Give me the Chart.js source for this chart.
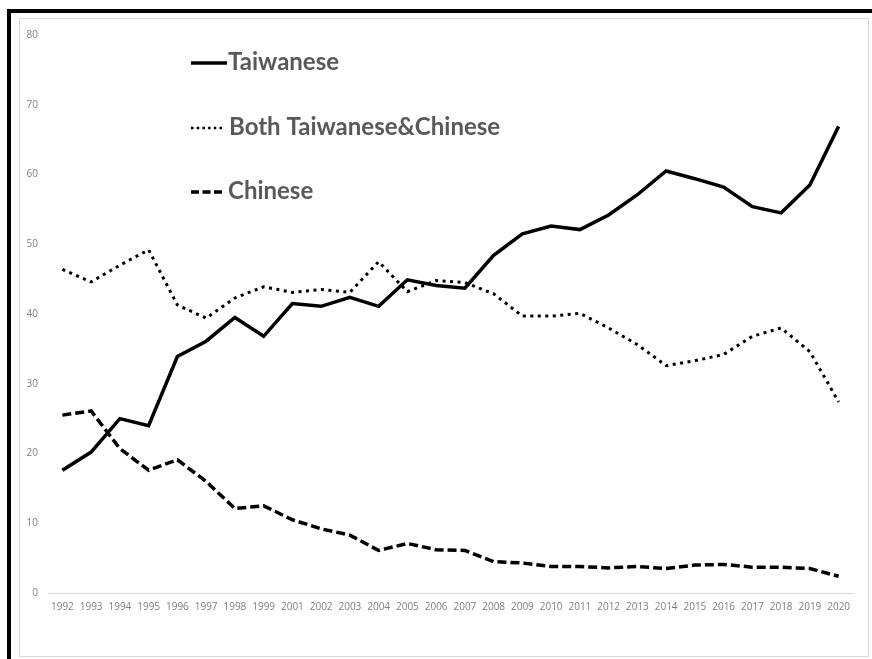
<!DOCTYPE html>
<html>
<head>
<meta charset="utf-8">
<script src="https://cdn.jsdelivr.net/npm/chart.js@4/dist/chart.umd.min.js"></script>
<style>
  html, body { margin: 0; padding: 0; width: 872px; height: 659px; overflow: hidden; background: #fff; }
  #frame { position: absolute; left: 7px; top: 9px; width: 900px; height: 700px; border: 4px solid #000; box-sizing: border-box; }
  #box { position: absolute; left: 19px; top: 18px; width: 848px; height: 637px; border: 1px solid #d9d9d9; background: #fff; }
  #wrap { position: absolute; left: 0; top: 0; width: 848px; height: 637px; }
</style>
</head>
<body>
<div id="frame"></div>
<div id="box"><div id="wrap"><canvas id="chart"></canvas></div></div>
<script>
// роки (2000 у даних відсутній)
const years = ['1992','1993','1994','1995','1996','1997','1998','1999','2001','2002','2003','2004','2005','2006','2007',
  '2008','2009','2010','2011','2012','2013','2014','2015','2016','2017','2018','2019','2020'];

const taiwanese = [17.6, 20.2, 25.0, 24.0, 33.9, 36.1, 39.5, 36.8, 41.5, 41.1, 42.4, 41.1, 44.9, 44.1, 43.7,
  48.4, 51.5, 52.6, 52.1, 54.2, 57.1, 60.5, 59.4, 58.2, 55.4, 54.5, 58.5, 66.9];
const both = [46.4, 44.6, 47.0, 49.2, 41.3, 39.4, 42.3, 43.9, 43.1, 43.5, 43.1, 47.5, 43.2, 44.8, 44.5,
  42.9, 39.7, 39.7, 40.1, 38.0, 35.6, 32.6, 33.3, 34.2, 36.8, 38.0, 34.6, 27.4];
const chinese = [25.5, 26.1, 20.7, 17.6, 19.1, 16.0, 12.1, 12.5, 10.5, 9.2, 8.3, 6.1, 7.1, 6.2, 6.1,
  4.5, 4.3, 3.8, 3.8, 3.6, 3.8, 3.5, 4.0, 4.1, 3.7, 3.7, 3.5, 2.4];

const yTicks = [0, 10, 20, 30, 40, 50, 60, 70, 80];

// легенда всередині графіка
const inlineLegend = {
  id: 'inlineLegend',
  afterDraw(chart) {
    const ctx = chart.ctx;
    const rows = [43, 108, 172];
    const samples = [
      { w: 3.5, dash: [] },
      { w: 2.5, dash: [2.5, 3.2] },
      { w: 3.5, dash: [8, 3.5] }
    ];
    ctx.save();
    chart.data.datasets.forEach((ds, i) => {
      const y = rows[i];
      ctx.beginPath();
      ctx.strokeStyle = '#000';
      ctx.lineWidth = samples[i].w;
      ctx.setLineDash(samples[i].dash);
      ctx.moveTo(171, y + 1);
      ctx.lineTo(i === 0 ? 207 : 203, y + 1);
      ctx.stroke();
      ctx.setLineDash([]);
      ctx.fillStyle = '#595959';
      ctx.font = 'bold 24px Lato';
      ctx.textBaseline = 'middle';
      ctx.fillText(ds.label, i === 1 ? 209 : 208, y);
    });
    ctx.restore();
  }
};

new Chart(document.getElementById('chart'), {
  type: 'line',
  data: {
    labels: years,
    datasets: [
      { label: 'Taiwanese', data: taiwanese, borderColor: '#000', borderWidth: 3.5, pointRadius: 0, tension: 0 },
      { label: 'Both Taiwanese&Chinese', data: both, borderColor: '#000', borderWidth: 3, borderDash: [3, 4.5], pointRadius: 0, tension: 0 },
      { label: 'Chinese', data: chinese, borderColor: '#000', borderWidth: 3.5, borderDash: [9, 4], pointRadius: 0, tension: 0 }
    ]
  },
  options: {
    animation: false,
    responsive: true,
    maintainAspectRatio: false,
    layout: { padding: { top: 14, right: 15, left: 0, bottom: 0 } },
    plugins: { legend: { display: false }, tooltip: { enabled: false } },
    scales: {
      x: {
        offset: true,
        grid: { display: false, drawTicks: false, offset: true },
        border: { display: true, color: '#d9d9d9', width: 1 },
        ticks: { color: '#7f7f7f', font: { family: 'Open Sans', size: 10 }, maxRotation: 0, autoSkip: false, padding: 8 },
        afterFit(scale) { scale.height = 63; }
      },
      y: {
        min: 0, max: 80,
        afterBuildTicks(scale) { scale.ticks = yTicks.map(v => ({ value: v })); },
        grid: { display: false, drawTicks: false },
        border: { display: false },
        ticks: { color: '#7f7f7f', font: { family: 'Open Sans', size: 10 }, padding: 10 },
        afterFit(scale) { scale.width = 28; }
      }
    }
  },
  plugins: [inlineLegend]
});
</script>
</body>
</html>
